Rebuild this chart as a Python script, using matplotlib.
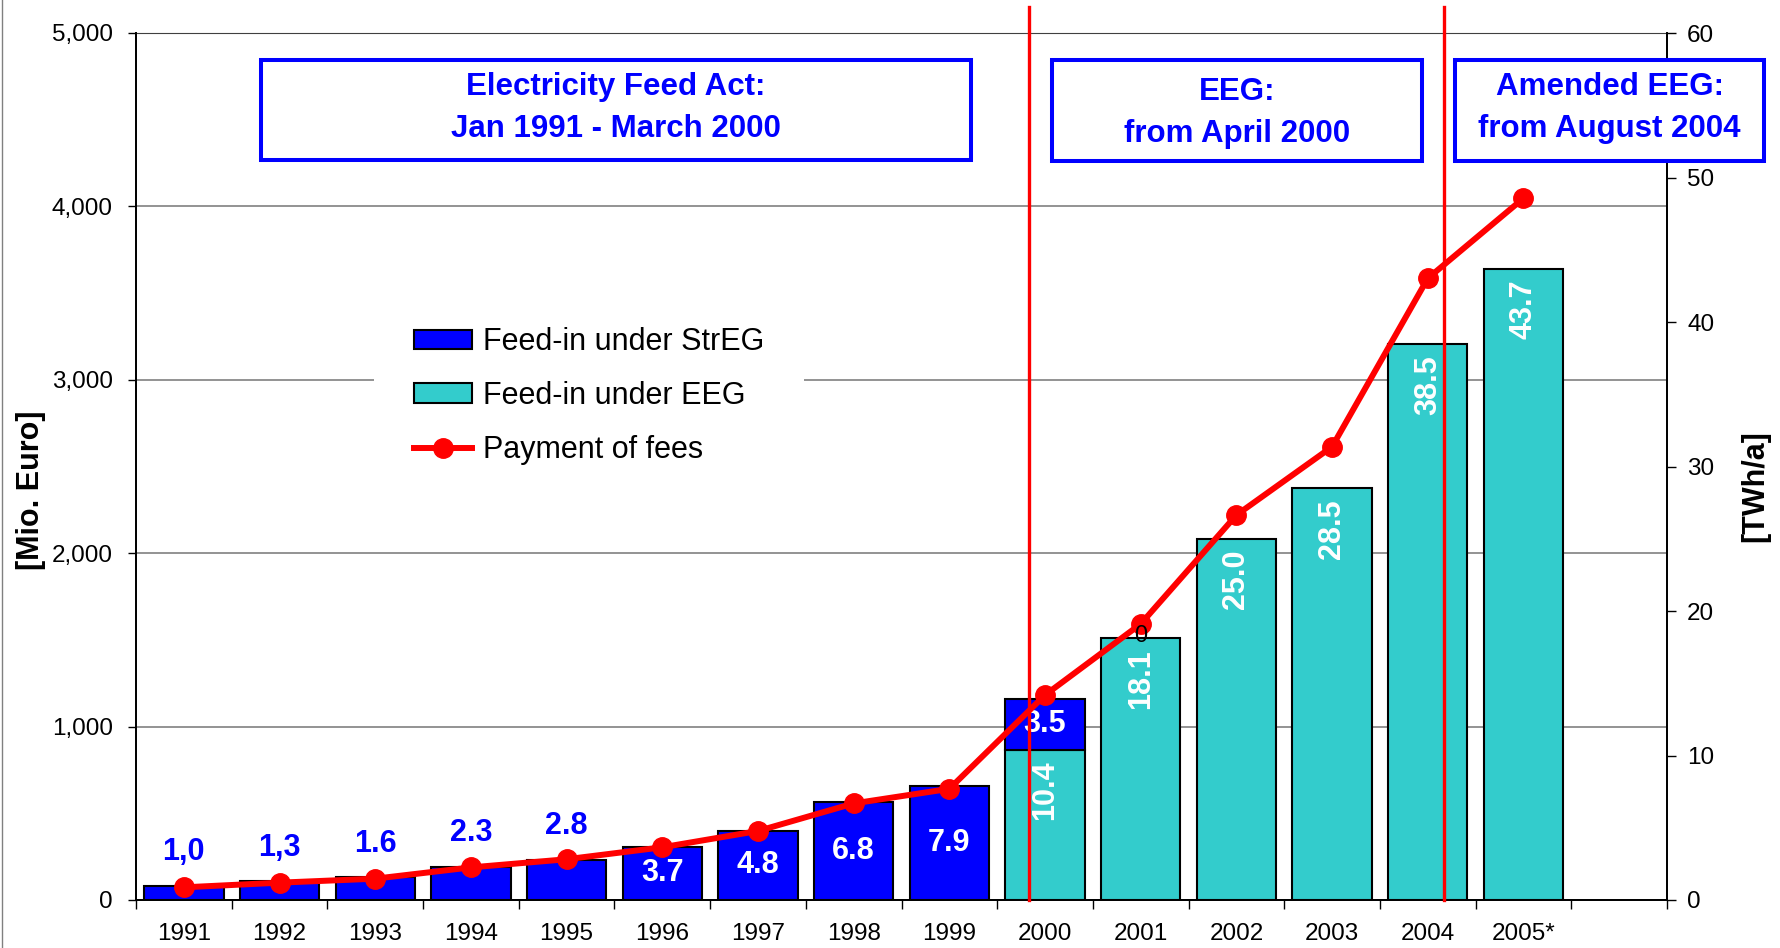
import matplotlib.pyplot as plt
from matplotlib.patches import Rectangle
from matplotlib.lines import Line2D
from matplotlib.ticker import StrMethodFormatter
import numpy as np

plt.rcParams['font.family'] = ['Liberation Sans', 'DejaVu Sans']

# data
years = ['1991', '1992', '1993', '1994', '1995', '1996', '1997', '1998',
         '1999', '2000', '2001', '2002', '2003', '2004', '2005*']
# feed-in under StrEG (TWh/a), 1991-2000
streg = [1.0, 1.3, 1.6, 2.3, 2.8, 3.7, 4.8, 6.8, 7.9, 3.5]
streg_labels = ['1,0', '1,3', '1.6', '2.3', '2.8', '3.7', '4.8', '6.8', '7.9', '3.5']
# feed-in under EEG (TWh/a), 2000-2005
eeg = [10.4, 18.1, 25.0, 28.5, 38.5, 43.7]
eeg_labels = ['10.4', '18.1', '25.0', '28.5', '38.5', '43.7']
# payment of fees (Mio. Euro)
payments = [73, 100, 123, 188, 235, 304, 398, 557, 641, 1182, 1592, 2220, 2614, 3585, 4047]

# law changes: (year index, month)
law_changes = [(9, 4), (13, 8)]

W, H = 1780, 948
BLUE = '#0000FF'
TEAL = '#33CCCC'
RED = '#FF0000'

fig = plt.figure(figsize=(W / 100, H / 100), dpi=100)
ax = fig.add_axes([136 / W, 48 / H, 1531 / W, 867 / H])
ax_bar = ax.twinx()
ax_line = ax.twinx()
ax.set_zorder(0)
ax_bar.set_zorder(1)
ax_line.set_zorder(2)
ax_line.patch.set_visible(False)

x = np.arange(len(years))
n_eeg0 = len(years) - len(eeg)
eeg_full = np.zeros(len(years))
eeg_full[n_eeg0:] = eeg
streg_bottom = eeg_full[:len(streg)]

# bars (right axis, TWh/a)
b_eeg = ax_bar.bar(x[n_eeg0:], eeg, width=0.83, color=TEAL, edgecolor='black', linewidth=1.5)
b_streg = ax_bar.bar(x[:len(streg)], streg, bottom=streg_bottom, width=0.83,
                     color=BLUE, edgecolor='black', linewidth=1.5)

for i, (v, s) in enumerate(zip(streg, streg_labels)):
    if i < 5:
        ax_bar.annotate(s, (x[i], v), xytext=(0, 24), textcoords='offset points',
                        ha='center', va='center', color=BLUE, fontsize=22, fontweight='bold')
    else:
        ax_bar.text(x[i], streg_bottom[i] + v / 2, s, ha='center', va='center',
                    color='white', fontsize=22, fontweight='bold')

for i, (v, s) in enumerate(zip(eeg, eeg_labels)):
    ax_bar.annotate(s, (x[n_eeg0 + i], v), xytext=(0, -8), textcoords='offset points',
                    ha='center', va='top', rotation=90, color='white',
                    fontsize=22, fontweight='bold')

# payments line (left axis, Mio. Euro)
ln, = ax_line.plot(x, payments, color=RED, lw=4.3, marker='o', ms=14, zorder=3)
for idx, month in law_changes:
    ax_line.axvline(idx - 0.5 + month / 12, ymin=0, ymax=1.03, color=RED, lw=2.4, clip_on=False)

# stray "0" label sitting on top of the 2001 bar
ax_line.annotate('0', (x[n_eeg0 + 1], eeg[1]), xycoords=ax_bar.transData,
                 xytext=(0, 2), textcoords='offset points',
                 ha='center', va='center', fontsize=17, zorder=5)

# axes setup
ax.set_xlim(-0.5, len(years) + 0.5)
ax.set_ylim(0, 5000)
ax.set_yticks(np.arange(0, 5001, 1000))
ax.yaxis.set_major_formatter(StrMethodFormatter('{x:,.0f}'))
ax.grid(axis='y', color='#808080', lw=1.2)
ax.set_axisbelow(True)
ax.set_xticks(np.arange(-0.5, len(years) + 0.6, 1), labels=[])
ax.set_xticks(x, labels=years, minor=True)
ax.tick_params(axis='x', which='major', length=6.5, width=1, direction='out')
ax.tick_params(axis='x', which='minor', length=0, pad=16.5, labelsize=17.5)
ax.tick_params(axis='y', length=5.8, width=1, pad=10.8, labelsize=17.5)
for s in ['left', 'bottom', 'right']:
    ax.spines[s].set_linewidth(1.3)
ax.spines['top'].set_color('#404040')

ax_bar.set_ylim(0, 60)
ax_bar.set_yticks(np.arange(0, 61, 10))
ax_bar.tick_params(axis='y', length=6.5, width=1, pad=8, labelsize=17.5)
ax_bar.spines['top'].set_visible(False)
for s in ['left', 'bottom', 'right']:
    ax_bar.spines[s].set_linewidth(1.3)

ax_line.set_ylim(0, 5000)
ax_line.axis('off')

fig.text(31 / W, 1 - 490 / H, '[Mio. Euro]', rotation=90, ha='center', va='center',
         fontsize=22, fontweight='bold')
fig.text(1755 / W, 1 - 486 / H, '[TWh/a]', rotation=90, ha='center', va='center',
         fontsize=22, fontweight='bold')

leg = ax_line.legend([b_streg, b_eeg, ln],
                     ['Feed-in under StrEG', 'Feed-in under EEG', 'Payment of fees'],
                     loc='center', bbox_to_anchor=(589 / W, 1 - 396 / H),
                     bbox_transform=fig.transFigure, frameon=True, fancybox=False,
                     facecolor='white', edgecolor='none', framealpha=1, fontsize=22,
                     handlelength=1.9, handleheight=0.62, handletextpad=0.36,
                     labelspacing=0.78, borderpad=1.3, numpoints=1)

# law period boxes
boxes = [
    ((261, 60, 971, 160), ['Electricity Feed Act:', 'Jan 1991 - March 2000'], (95, 137)),
    ((1052, 60, 1422, 161), ['EEG:', 'from April 2000'], (100, 142)),
    ((1455, 60, 1764, 161), ['Amended EEG:', 'from August 2004'], (95, 137)),
]
for (x0, y0, x1, y1), lines, bases in boxes:
    fig.add_artist(Rectangle((x0 / W, 1 - y1 / H), (x1 - x0) / W, (y1 - y0) / H,
                             transform=fig.transFigure, facecolor='white',
                             edgecolor=BLUE, lw=2.9, zorder=5))
    for t, yb in zip(lines, bases):
        fig.text((x0 + x1) / 2 / W, 1 - yb / H, t, ha='center', va='baseline',
                 color=BLUE, fontsize=22.5, fontweight='bold', zorder=6)

fig.add_artist(Line2D([2 / W, 2 / W], [0, 1], color='#808080', lw=1))

fig.savefig('out.png', dpi=100)
